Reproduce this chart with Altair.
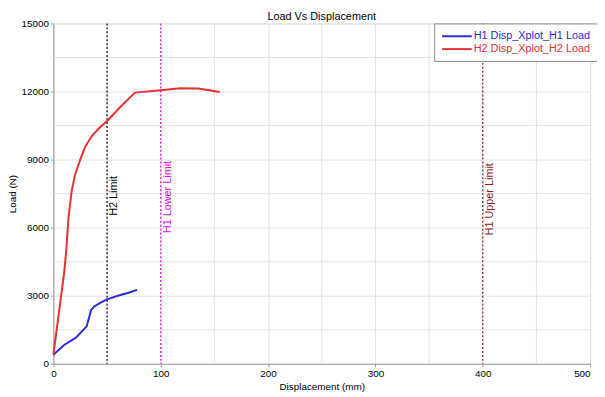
import altair as alt
import pandas as pd

# Series data (Displacement mm, Load N)
h1_x = [0, 10, 21, 31, 33, 35, 38, 44, 50, 60, 70, 78]
h1_y = [400, 830, 1150, 1650, 2000, 2350, 2530, 2700, 2840, 3000, 3130, 3260]
h2_x = [0, 5, 10, 12, 14, 17, 20, 25, 30, 36, 43, 50, 63, 76, 100, 118, 135, 155]
h2_y = [400, 2200, 4000, 5000, 6400, 7600, 8300, 9000, 9600, 10050, 10400, 10700,
        11350, 11950, 12060, 12140, 12130, 11980]

series_names = ["H1 Disp_Xplot_H1 Load", "H2 Disp_Xplot_H2 Load"]
series_colors = ["#2a2ad8", "#e83030"]

limit_x = [50, 100, 400]
limit_labels = ["H2 Limit", "H1 Lower Limit", "H1 Upper Limit"]
limit_colors = ["#000000", "#e010e0", "#8b1a1a"]
limit_label_y = [7400, 7350, 7250]

x_ticks = [0, 100, 200, 300, 400, 500]
y_ticks = [0, 3000, 6000, 9000, 12000, 15000]

df = pd.concat([
    pd.DataFrame({"x": h1_x, "y": h1_y, "series": series_names[0], "order": range(len(h1_x))}),
    pd.DataFrame({"x": h2_x, "y": h2_y, "series": series_names[1], "order": range(len(h2_x))}),
])
limits = pd.DataFrame({"x": limit_x, "label": limit_labels, "color": limit_colors, "ly": limit_label_y})

xscale = alt.Scale(domain=[0, 500], nice=False)
yscale = alt.Scale(domain=[0, 15000], nice=False)

xaxis = alt.Axis(title="Displacement (mm)", values=x_ticks, format="d",
                 gridColor="#e4e4e4", labelFontSize=10, titleFontSize=10,
                 titleFontWeight="normal", tickSize=3, labelPadding=2,
                 domainColor="#999999", tickColor="#999999", titlePadding=3,
                 labelColor="#000000", labelFlush=False,
                 labelAlign=alt.ExprRef(expr="datum.value == 500 ? 'right' : 'center'"))
yaxis = alt.Axis(title="Load (N)", values=y_ticks, format="d",
                 gridColor="#e4e4e4", labelFontSize=10, titleFontSize=10,
                 titleFontWeight="normal", tickSize=3, labelPadding=2,
                 domainColor="#999999", tickColor="#999999", titlePadding=4,
                 labelColor="#000000")

# minor grid
xgrid = pd.DataFrame({"x": list(range(50, 500, 100))})
ygrid = pd.DataFrame({"y": list(range(1500, 15000, 3000))})

gx = alt.Chart(xgrid).mark_rule(color="#e4e4e4", strokeWidth=1).encode(
    x=alt.X("x:Q", scale=xscale))
gy = alt.Chart(ygrid).mark_rule(color="#e4e4e4", strokeWidth=1).encode(
    y=alt.Y("y:Q", scale=yscale))

lines = alt.Chart(df).mark_line(strokeWidth=2).encode(
    x=alt.X("x:Q", scale=xscale, axis=xaxis),
    y=alt.Y("y:Q", scale=yscale, axis=yaxis),
    order="order:Q",
    color=alt.Color("series:N", scale=alt.Scale(domain=series_names, range=series_colors),
                    legend=alt.Legend(title=None, orient="none", legendX=386, legendY=0,
                                      strokeColor="#888888", fillColor="#ffffff",
                                      padding=7, rowPadding=2,
                                      symbolType="M-1,0L5,0", symbolSize=100,
                                      symbolStrokeWidth=2, labelFontSize=11,
                                      labelColor=alt.ExprRef(
                                          expr="datum.label == 'H1 Disp_Xplot_H1 Load' ? '#2a2ad8' : '#e83030'"),
                                      labelOffset=21)),
)

vlines = alt.Chart(limits).mark_rule(strokeDash=[2, 2], strokeWidth=1.2).encode(
    x=alt.X("x:Q", scale=xscale),
    color=alt.Color("color:N", scale=None),
)

vtext = alt.Chart(limits).mark_text(angle=270, fontSize=11, dy=7, align="center",
                                    baseline="middle", font="Liberation Sans").encode(
    x=alt.X("x:Q", scale=xscale),
    y=alt.Y("ly:Q", scale=yscale),
    text="label:N",
    color=alt.Color("color:N", scale=None),
)

chart = alt.layer(gx, gy, vlines, lines, vtext).properties(
    width=544, height=345,
    title=alt.Title("Load Vs Displacement", fontSize=11, fontWeight="normal",
                    offset=2, dy=6, anchor="middle", font="Liberation Sans"),
    autosize=alt.AutoSizeParams(type="none"),
    padding={"left": 46, "top": 13, "right": 7, "bottom": 31},
).configure_view(stroke="#999999").configure(font="Liberation Sans")

chart.save("out.html", embed_options={"renderer": "svg", "actions": False})
